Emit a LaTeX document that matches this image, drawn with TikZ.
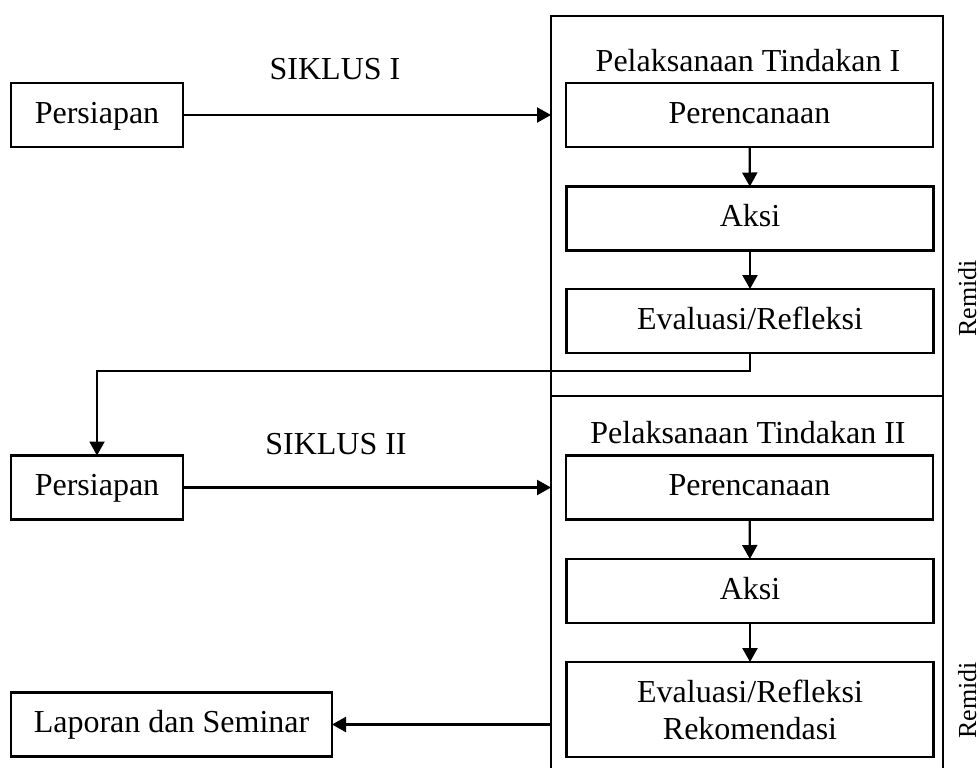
\documentclass[tikz,border=0pt]{standalone}
\usepackage{fontspec}
\setmainfont{Liberation Serif}
\usepackage{tikz}
\usetikzlibrary{arrows.meta,positioning}
\tikzset{
stage/.style={rectangle,draw=black,line width=1.1pt,
inner sep=2pt,outer sep=0pt,minimum height=32pt,
font=\fontsize{16}{18.5}\selectfont,align=center},
oneline/.style={text height=11pt,text depth=3pt},
panel/.style={rectangle,draw=black,line width=1.1pt,
outer sep=0pt,minimum width=196pt},
heading/.style={font=\fontsize{16}{19}\selectfont,anchor=base},
remidi/.style={rotate=90,anchor=base,font=\fontsize{13}{15}\selectfont},
link/.style={line width=1.1pt,-{Triangle[length=7pt,width=7.5pt]}}
}
\begin{document}
\begin{tikzpicture}[x=0.5pt,y=-0.5pt]
\clip (0,0) rectangle (979,767);

\node[panel,minimum height=190pt] (panelI) at (747,206) {};
\node[panel,minimum height=210pt] (panelII) at (747,606) {};

% siklus I
\node[stage,oneline,minimum width=86pt] (prepI) at (97,115) {Persiapan};
\node[heading] (cycleI) at (335,79) {SIKLUS I};
\node[heading] (titleI) at (748,71) {Pelaksanaan Tindakan I};
\node[stage,oneline,minimum width=183.5pt] (planI) at (749.5,115) {Perencanaan};
\node[stage,oneline,minimum width=183.5pt] (actI) at (750,218.5) {Aksi};
\node[stage,oneline,minimum width=183.5pt] (evalI) at (750,321) {Evaluasi/Refleksi};
\node[remidi] (remI) at (976,298.5) {Remidi};

% siklus II
\node[stage,oneline,minimum width=86pt] (prepII) at (97,487.5) {Persiapan};
\node[heading] (cycleII) at (336,454) {SIKLUS II};
\node[heading] (titleII) at (748,443) {Pelaksanaan Tindakan II};
\node[stage,oneline,minimum width=183.5pt] (planII) at (749.5,487.5) {Perencanaan};
\node[stage,oneline,minimum width=183.5pt] (actII) at (750,591) {Aksi};
\node[stage,minimum width=183.5pt,minimum height=47.5pt] (evalII) at (750,709.5)
{Evaluasi/Refleksi\\Rekomendasi};
\node[remidi] (remII) at (976,700.5) {Remidi};

\node[stage,oneline,minimum width=160.5pt] (report) at (171.5,724.5) {Laporan dan Seminar};

\draw[link] (prepI.east) -- (prepI.east -| panelI.west);
\draw[link] (planI) -- (actI);
\draw[link] (actI) -- (evalI);
\coordinate (back) at (0,371);
\draw[link] (evalI.south) |- (back -| prepII.north) -- (prepII.north);

\draw[link] (prepII.east) -- (prepII.east -| panelII.west);
\draw[link] (planII) -- (actII);
\draw[link] (actII) -- (evalII);
\draw[link] (report.east -| panelII.west) -- (report.east);

\end{tikzpicture}
\end{document}
